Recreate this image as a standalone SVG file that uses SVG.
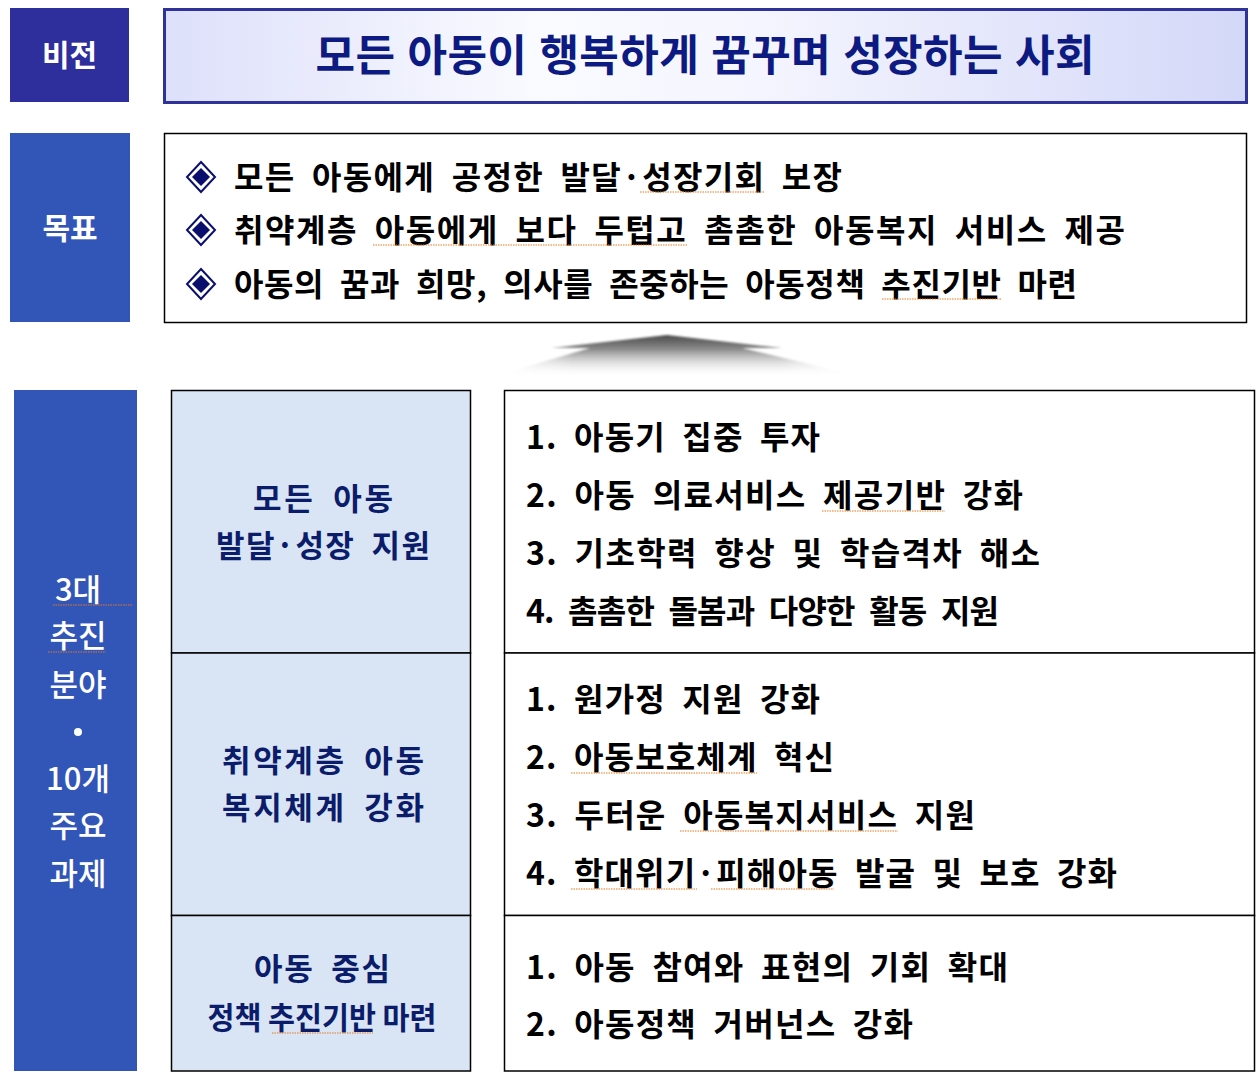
<svg xmlns="http://www.w3.org/2000/svg" width="1259" height="1078" viewBox="0 0 1259 1078">
<defs>
<linearGradient id="visLin" x1="0" y1="0" x2="1" y2="0">
<stop offset="0" stop-color="#dde0fa"/>
<stop offset="0.35" stop-color="#fafbff"/>
<stop offset="0.55" stop-color="#f4f5fe"/>
<stop offset="1" stop-color="#d4d8f8"/>
</linearGradient>
<linearGradient id="arrowGrad" x1="0" y1="0" x2="0" y2="1">
<stop offset="0" stop-color="#4a4a4a"/>
<stop offset="0.35" stop-color="#8a8a8a"/>
<stop offset="1" stop-color="#ffffff" stop-opacity="0.2"/>
</linearGradient>
<linearGradient id="arrowSide" x1="0" y1="0" x2="1" y2="0">
<stop offset="0" stop-color="#fff" stop-opacity="1"/>
<stop offset="0.22" stop-color="#fff" stop-opacity="0"/>
<stop offset="0.78" stop-color="#fff" stop-opacity="0"/>
<stop offset="1" stop-color="#fff" stop-opacity="1"/>
</linearGradient>
<filter id="soft" x="-10%" y="-50%" width="120%" height="200%">
<feGaussianBlur stdDeviation="1.2"/>
</filter>
</defs>
<style>
.kr{font-family:"Noto Sans CJK KR","Noto Sans CJK SC",sans-serif;}
.lbl{fill:#ffffff;font-size:30px;font-weight:bold;text-anchor:middle;}
.title{fill:#0c1a82;font-size:43px;font-weight:bold;text-anchor:middle;word-spacing:2px;}
.goal{fill:#000000;font-size:32px;font-weight:bold;word-spacing:8px;}
.mid{fill:#0b1c6b;font-size:31px;font-weight:bold;text-anchor:middle;word-spacing:8px;}
.item{fill:#000000;font-size:32px;font-weight:bold;word-spacing:8px;}
.side{fill:#ffffff;font-size:31px;font-weight:500;text-anchor:middle;}
.spell{stroke:#e8781e;stroke-width:1.2;stroke-dasharray:1.5 1;fill:none;}
.cell{stroke:#000;stroke-width:1.5;}
</style>

<g id="vision-label">
<rect x="10" y="8" width="119" height="94" fill="#2e2e9c"/>
<text class="kr lbl" x="69.5" y="66">비전</text>
</g>
<g id="vision">
<rect x="164.5" y="9.5" width="1082" height="93" fill="url(#visLin)" stroke="#2f3399" stroke-width="3"/>
<text class="kr title" x="705" y="71" textLength="779" lengthAdjust="spacing">모든 아동이 행복하게 꿈꾸며 성장하는 사회</text>
</g>

<g id="goal-label">
<rect x="10" y="133" width="120" height="189" fill="#3255b8"/>
<text class="kr lbl" x="70" y="239">목표</text>
</g>
<g id="goals">
<rect x="164.5" y="133.5" width="1082" height="189" fill="#ffffff" stroke="#000" stroke-width="1.5"/>
<g fill="none" stroke="#0a0f6e" stroke-width="2">
<path d="M201 162 L215 177 L201 192 L187 177 Z"/>
<path d="M201 215 L215 230 L201 245 L187 230 Z"/>
<path d="M201 269 L215 284 L201 299 L187 284 Z"/>
</g>
<g fill="#0a0f6e">
<path d="M201 168 L210 177 L201 186 L192 177 Z"/>
<path d="M201 221 L210 230 L201 239 L192 230 Z"/>
<path d="M201 275 L210 284 L201 293 L192 284 Z"/>
</g>
<text class="kr goal" x="234" y="189" textLength="608" lengthAdjust="spacing">모든 아동에게 공정한 발달·성장기회 보장</text>
<text class="kr goal" x="234" y="242" textLength="891" lengthAdjust="spacing">취약계층 아동에게 보다 두텁고 촘촘한 아동복지 서비스 제공</text>
<text class="kr goal" x="234" y="296" textLength="843" lengthAdjust="spacing">아동의 꿈과 희망, 의사를 존중하는 아동정책 추진기반 마련</text>
</g>

<g id="up-arrow">
<path d="M667 335 L782 348 L742 348 L855 375 L498 375 L590 348 L551 348 Z" fill="url(#arrowGrad)" filter="url(#soft)"/>
<rect x="493" y="333" width="366" height="44" fill="url(#arrowSide)"/>
</g>

<g id="side-label">
<rect x="14" y="390" width="123" height="681" fill="#3255b8"/>
<text class="kr side" x="78" y="601">3대</text>
<text class="kr side" x="78" y="647">추진</text>
<text class="kr side" x="78" y="696">분야</text>
<circle cx="78" cy="732" r="4" fill="#ffffff"/>
<text class="kr side" x="78" y="790">10개</text>
<text class="kr side" x="78" y="837">주요</text>
<text class="kr side" x="78" y="885">과제</text>
</g>

<g id="area1">
<rect class="cell" x="171.5" y="390.5" width="299" height="262.5" fill="#d9e5f4"/>
<text class="kr mid" x="323" y="510" textLength="140" lengthAdjust="spacing">모든 아동</text>
<text class="kr mid" x="323" y="557" textLength="214" lengthAdjust="spacing">발달·성장 지원</text>
<rect class="cell" x="504.5" y="390.5" width="750" height="262.5" fill="#ffffff"/>
<text class="kr item" x="526" y="449" textLength="294" lengthAdjust="spacing">1. 아동기 집중 투자</text>
<text class="kr item" x="526" y="507" textLength="497" lengthAdjust="spacing">2. 아동 의료서비스 제공기반 강화</text>
<text class="kr item" x="526" y="565" textLength="514" lengthAdjust="spacing">3. 기초학력 향상 및 학습격차 해소</text>
<text class="kr item" x="526" y="623" textLength="473" lengthAdjust="spacing">4. 촘촘한 돌봄과 다양한 활동 지원</text>
</g>

<g id="area2">
<rect class="cell" x="171.5" y="653" width="299" height="262.5" fill="#d9e5f4"/>
<text class="kr mid" x="323" y="772" textLength="202" lengthAdjust="spacing">취약계층 아동</text>
<text class="kr mid" x="323" y="819" textLength="202" lengthAdjust="spacing">복지체계 강화</text>
<rect class="cell" x="504.5" y="653" width="750" height="262.5" fill="#ffffff"/>
<text class="kr item" x="526" y="711" textLength="294" lengthAdjust="spacing">1. 원가정 지원 강화</text>
<text class="kr item" x="526" y="769" textLength="308" lengthAdjust="spacing">2. 아동보호체계 혁신</text>
<text class="kr item" x="526" y="827" textLength="449" lengthAdjust="spacing">3. 두터운 아동복지서비스 지원</text>
<text class="kr item" x="526" y="885" textLength="591" lengthAdjust="spacing">4. 학대위기·피해아동 발굴 및 보호 강화</text>
</g>

<g id="area3">
<rect class="cell" x="171.5" y="915.5" width="299" height="155.5" fill="#d9e5f4"/>
<text class="kr mid" x="322" y="980" textLength="136" lengthAdjust="spacing">아동 중심</text>
<text class="kr mid" x="322" y="1029" textLength="229" lengthAdjust="spacingAndGlyphs" style="word-spacing:0px">정책 추진기반 마련</text>
<rect class="cell" x="504.5" y="915.5" width="750" height="155.5" fill="#ffffff"/>
<text class="kr item" x="526" y="979" textLength="482" lengthAdjust="spacing">1. 아동 참여와 표현의 기회 확대</text>
<text class="kr item" x="526" y="1036" textLength="387" lengthAdjust="spacing">2. 아동정책 거버넌스 강화</text>
</g>

<g id="spellcheck-marks">
<path class="spell" d="M640 192 H765"/>
<path class="spell" d="M373 245 H688"/>
<path class="spell" d="M882 299 H1001"/>
<path class="spell" d="M822 511 H945"/>
<path class="spell" d="M571 773 H757"/>
<path class="spell" d="M680 831 H898"/>
<path class="spell" d="M571 889 H697 M711 889 H834"/>
<path class="spell" d="M53 605 H133"/>
<path class="spell" d="M48 652 H106"/>
<path class="spell" d="M272 1033 H373"/>
</g>
</svg>
